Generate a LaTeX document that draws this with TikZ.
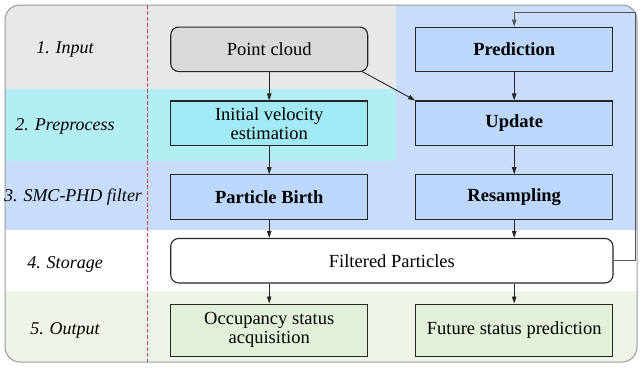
\documentclass[tikz,border=0pt]{standalone}
\usepackage{fontspec}
\setmainfont{Liberation Serif}
\usetikzlibrary{arrows.meta,calc}
\definecolor{rowgray}{HTML}{E8E8E8}
\definecolor{rowcyan}{HTML}{B3EEF5}
\definecolor{rowblue}{HTML}{C9DDFB}
\definecolor{rowgreen}{HTML}{EEF5E8}
\definecolor{boxgray}{HTML}{D9D9D9}
\definecolor{boxcyan}{HTML}{A2EAF3}
\definecolor{boxblue}{HTML}{BDD7FB}
\definecolor{boxgreen}{HTML}{E2EFD9}
\definecolor{dashred}{HTML}{C8404F}
\definecolor{loopgray}{HTML}{555555}
\begin{document}
\begin{tikzpicture}[x=1pt,y=-1pt,
  stagebox/.style={draw=black!85, line width=1.1pt, minimum width=197pt, minimum height=44.5pt,
    align=center, inner sep=2pt, font=\fontsize{18.5}{20}\selectfont},
  roundbox/.style={stagebox, rounded corners=8pt},
  rowlabel/.style={font=\fontsize{18}{20}\selectfont\itshape},
  arr/.style={draw=black!85, line width=0.9pt, -{Triangle[length=7pt,width=4.5pt]}}]
\useasboundingbox (0,0) rectangle (642,367);
\begin{scope}
\clip[rounded corners=15pt] (5,5) rectangle (637,362);
\fill[rowgray] (5,5) rectangle (637,89);
\fill[rowcyan] (5,89) rectangle (637,161);
\fill[rowblue] (5,161) rectangle (637,230);
\fill[white] (5,230) rectangle (637,291);
\fill[rowgreen] (5,291) rectangle (637,362);
\fill[rowblue] (396,5) rectangle (637,230);
\end{scope}
\draw[black!40, line width=1pt, rounded corners=15pt] (5,5) rectangle (637,362);
\draw[dashred, line width=1.1pt, dash pattern=on 3.5pt off 2.5pt] (147.7,5) -- (147.7,362);

\node[rowlabel] (l1) at (65,49.3) {1. Input};
\node[rowlabel] (l2) at (65,126.5) {2. Preprocess};
\node[rowlabel] (l3) at (73,197) {3. SMC-PHD filter};
\node[rowlabel] (l4) at (65,264) {4. Storage};
\node[rowlabel] (l5) at (65,330.5) {5. Output};

\node[roundbox, fill=boxgray] (pc) at (269.2,49.3) {Point cloud};
\node[stagebox, fill=boxcyan] (ive) at (269.2,123.2) {Initial velocity\\[-1pt]estimation};
\node[stagebox, fill=boxblue, font=\fontsize{18.5}{20}\selectfont\bfseries] (pb) at (269.2,197) {Particle Birth};
\node[stagebox, fill=boxblue, font=\fontsize{18.5}{20}\selectfont\bfseries] (pred) at (514.2,49.3) {Prediction};
\node[stagebox, fill=boxblue, font=\fontsize{18.5}{20}\selectfont\bfseries] (upd) at (514.2,123.2) {Update};
\node[stagebox, fill=boxblue, font=\fontsize{18.5}{20}\selectfont\bfseries] (res) at (514.2,197) {Resampling};
\node[roundbox, fill=white, minimum width=442.3pt] (fp) at (391.85,260.7) {Filtered Particles};
\node[stagebox, fill=boxgreen, minimum height=52.3pt] (occ) at (269.2,330.2) {Occupancy status\\[-1pt]acquisition};
\node[stagebox, fill=boxgreen, minimum height=52.3pt] (fut) at (514.2,330.2) {Future status prediction};

\draw[arr] (pc) -- (ive);
\draw[arr] (ive) -- (pb);
\draw[arr] (pb) -- (pb |- fp.north);
\draw[arr] (pred) -- (upd);
\draw[arr] (upd) -- (res);
\draw[arr] (res) -- (res |- fp.north);
\draw[arr] (pb |- fp.south) -- (occ);
\draw[arr] (res |- fp.south) -- (fut);
\draw[arr] ($(pc.south east)+(-6,-0.5)$) -- (upd.north west);
\coordinate (c1) at (635,260.7);
\coordinate (c2) at (635,12.5);
\coordinate (c3) at (514.2,12.5);
\draw[arr, draw=loopgray] (fp.east) -- (c1) -- (c2) -- (c3) -- (pred.north);
\end{tikzpicture}
\end{document}
